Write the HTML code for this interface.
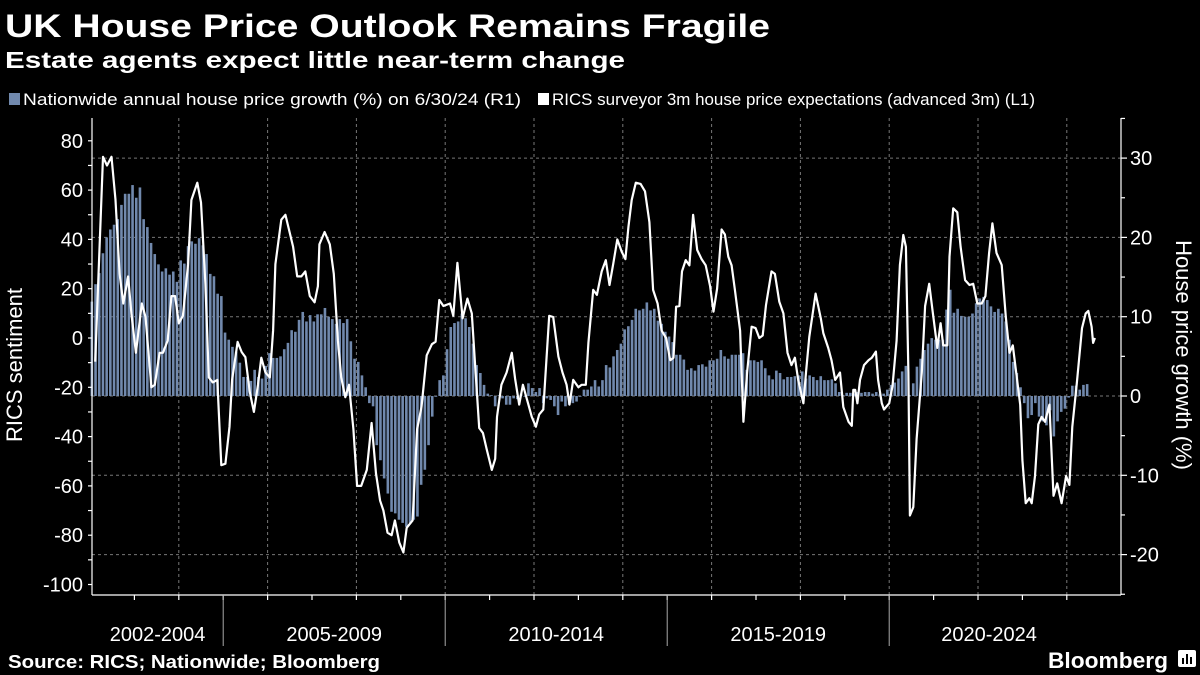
<!DOCTYPE html>
<html><head><meta charset="utf-8"><style>
html,body{margin:0;padding:0;background:#000;width:1200px;height:675px;overflow:hidden}
svg text{font-family:"Liberation Sans","DejaVu Sans",sans-serif;fill:#fff}
</style></head><body>
<svg id="chart" width="1200" height="675" viewBox="0 0 1200 675" xmlns="http://www.w3.org/2000/svg">
<rect width="1200" height="675" fill="#000"/>
<text x="5" y="37" font-size="32" font-weight="bold" textLength="765" lengthAdjust="spacingAndGlyphs">UK House Price Outlook Remains Fragile</text>
<text x="5" y="68" font-size="23" font-weight="bold" textLength="620" lengthAdjust="spacingAndGlyphs">Estate agents expect little near-term change</text>
<g>
<rect x="9" y="93" width="11" height="12" fill="#7189ad"/>
<text x="23" y="105" font-size="17" textLength="498" lengthAdjust="spacingAndGlyphs">Nationwide annual house price growth (%) on 6/30/24 (R1)</text>
<rect x="538" y="93" width="11" height="12" fill="#fff"/>
<text x="552" y="105" font-size="17" textLength="483" lengthAdjust="spacingAndGlyphs">RICS surveyor 3m house price expectations (advanced 3m) (L1)</text>
</g>
<g id="grid"></g>
<g id="bars"></g>
<g id="line"></g>
<g id="axes"></g>
<text transform="translate(22,365) rotate(-90)" text-anchor="middle" font-size="22">RICS sentiment</text>
<text transform="translate(1176,355) rotate(90)" text-anchor="middle" font-size="22">House price growth (%)</text>
<text x="8" y="668" font-size="18" font-weight="bold" textLength="372" lengthAdjust="spacingAndGlyphs">Source: RICS; Nationwide; Bloomberg</text>
<text x="1048" y="668" font-size="22" font-weight="bold" textLength="120" lengthAdjust="spacingAndGlyphs">Bloomberg</text>
<g>
<rect x="1178" y="650" width="18" height="17" rx="2" fill="#fff"/>
<rect x="1182" y="658" width="2" height="6" fill="#000"/><rect x="1186" y="654" width="2" height="10" fill="#000"/><rect x="1190" y="657" width="2" height="7" fill="#000"/>
</g>
</svg>
<script>
// Nationwide annual house price growth (%), monthly from Jan 2002
const barValues = [11.9,14.1,15.5,18,20,21,21.6,22.3,24.1,25.5,25.5,26.6,25,26.3,22.3,21.3,19.3,17.9,16.6,15.7,16.1,15.3,15.7,14.4,17.1,16.7,18.9,19.5,19.2,19.9,19,17.9,15.4,15.1,12.9,12.6,8,7.1,6.2,5.6,4.2,2.4,2.4,1.9,3.3,2.4,2.2,3.8,5.4,4.8,4.8,5,5.9,6.7,8.3,8.1,9.6,10.6,9.4,10.2,9.4,10.3,10.3,11.1,10,9.7,9.1,9.7,
9.2,9.7,6.9,4.7,4.3,2.6,1.1,-0.9,-1.3,-6.2,-8.1,-10.4,-12.3,-14.6,-14.8,-15.6,-16,-16.5,-16,-15.6,-15.2,-11.2,-9.3,-6.2,-2.6,-0.1,2,2.6,5.9,8.7,9.2,9.4,10.4,9.8,8.7,6.6,3.9,2.9,1.4,0.3,0.1,-1.3,0.1,-0.3,-1.1,-1.1,-0.3,-0.4,0.3,-0.1,1.6,1,0.5,1,-0.9,-0.3,-0.5,-1.3,-2.4,-0.7,-1.3,-1.1,-0.9,-0.7,-0.1,0.8,0.8,1.2,2,
1.2,2,3.9,3.6,5,5.8,6.6,8.4,8.8,9.6,11,10.8,11,11.8,10.8,11,9.5,9.1,8.1,7.5,6.8,5.2,5.2,4.6,3.3,3.5,3.2,3.9,4,3.7,4.5,4.5,4.7,5.8,5,4.7,5.2,5.2,5.2,5.4,3.3,4.5,4.5,4.3,4.5,3.5,2.6,2.1,3.2,2.9,2.1,2.4,2.4,2.5,2.6,3.1,2.2,2.6,2.4,2,2.5,2,2,2.1,1.6,0.5,0.1,
0.4,0.4,0.3,0.5,0.4,0.5,0.5,0.3,0.5,0.3,0.3,0.8,1.4,1.7,2.2,3.1,3.8,0.1,1.6,3.7,4.7,5.8,6.6,7.3,7.1,7.1,7.1,10.9,13.4,10.5,11,10.1,10,10,10.4,11.7,12.3,12.5,12.1,11.3,10.6,11,10.4,9.4,7.1,4.3,2.9,1.1,-0.9,-2.8,-2.4,-0.9,-2.6,-3.2,-3.7,-1.8,-5.1,-3.2,-2,-1.6,-0.2,1.3,1.3,0.8,1.4,1.5];
// RICS 3m price expectations (advanced 3m): months since Jan 2002, and balance
const lineMonth = [1.4,3.5,4.6,5.8,6.9,8,9,10.3,11.2,12.4,14,15,16.6,17.5,18.8,19.7,21,22,23,24,25.1,26.5,27.4,29,30,31.2,32.1,33.2,34.4,35.5,36.6,37.7,38.4,39.9,41,42,43.2,44.3,45.4,46.3,47.4,48.6,49.5,50.1,51.7,52.8,54.9,56,57.1,58.2,59.4,60.7,61.6,62,63.4,64.8,65.9,67,67.9,69,70,71.2,72.2,73.3,74.8,76.1,77.3,78.4,79.3,80.4,81.5,82.4,83.6,84.7,85.6,87.2,88.4,89.6,91,92.4,93.4,94.4,95.5,97.3,98.2,99.3,100.7,102,103.2,104,105.2,106.2,107.2,108.6,109.5,110,111.2,112.6,114,114.9,116,117,118.3,119.4,120.5,121.4,122.5,124.1,125.2,126.6,127.7,128.8,129.6,130.6,132,132.9,134,134.7,136,137,138.3,139.4,140.4,141.4,142.5,143.7,144.7,145.5,146.4,147.5,148.8,150,151.2,152.2,153.4,154.5,155.7,156.8,157.7,158.4,159.3,160,161,162,163,164.1,165.3,166.4,167.6,168.5,169.5,170.7,171.6,172.5,173.4,174.3,175.7,176.6,177.6,178.8,179.9,180.9,181.8,182.7,184.2,185.1,186.3,187.4,188.5,189.6,190.5,191.4,192.8,193.5,194.4,196.1,197.5,198.2,199.5,200.4,201.4,202.7,203.6,205,205.9,206.3,206.8,207.4,208.1,209.2,210.4,211.3,212.4,213,214,214.6,216,216.9,218,218.9,219.8,220.5,221.2,221.6,222.5,223.4,224.8,225.7,226.8,227.8,229,229.9,230.6,231.7,232.3,233.3,234.4,235.3,236.5,237.7,238.7,239.8,241,242,243,243.9,245,246.4,247.5,248.5,249.4,250.4,251.4,252,252.9,253.9,254.5,255.4,256.3,257.2,258.1,259.3,260.4,261.4,262.6,263.8,264.7,265.5,266.7,268.1,269.1,269.8,270.7,271.1,271.6];
const lineValue = [-9.6,73.5,70,73.5,56,26,14,25,10,-6,14,8.6,-20,-19,-6,-6,-1,17,17,6,9,30,56,63,55,22,-16,-18,-17,-51.6,-51,-36,-17,-1.6,-5.7,-7.8,-22,-30,-19,-8,-14,-16,3,30,48,50,37,25,25,27,17,14.5,21,38,43,38,26,-1,-16,-24,-19,-37,-60,-60,-53.5,-34.5,-55,-66,-70,-79,-80,-74,-83,-87,-77,-74,-37,-28,-7,-2.5,-1.5,15.4,13,14,9,30.5,8,16,10,-9,-36.5,-38.5,-45,-53.5,-49,-32,-19,-14,-6,-16.5,-27,-19,-26,-32,-36,-31,-29,9,8.5,-7.5,-14,-19,-27,-17,-20,-19,-19,-2,19.5,17.5,27,31.6,21.5,30,40,35,32,45,56,63,62.5,59.5,47,19.5,14,3,0,-9,-8,12.7,13,27,31.6,29.5,50,35.7,32,29.5,21,10.7,20,44,42,33,29.5,19.5,3,-34,-14,4.6,4,0,1,13.4,27,26,14.7,10,-6,-11,-8,-17,-26.5,-14,0.5,18,8,2,-4,-9,-17,-14,-28,-34,-35.6,-21,-21,-26.5,-17,-11,-9,-8,-5.5,-17,-26.5,-29,-26.5,-19.5,-1,29.6,41.8,37,-14,-72,-68.6,-41,-14,13,22,10,-4,6,-3,-3,33,52.6,51,37,23.5,21.5,22,14,14,17,34.5,46.5,34.5,29.6,8.6,-6,-3,-15,-27,-49.5,-67,-65,-67,-56,-35,-32,-34,-27,-64,-59,-67,-56,-59.6,-36,-18.4,4,10,11,4.6,-2,0];
const leftTicks = [80,60,40,20,0,-20,-40,-60,-80,-100];
const rightTicks = [30,20,10,0,-10,-20];
const periodLabels = ["2002-2004","2005-2009","2010-2014","2015-2019","2020-2024"];
const periodStartYears = [2002,2005,2010,2015,2020,2025];

const NS="http://www.w3.org/2000/svg";
const X0=90, PM=3.7, PLOT_L=92, PLOT_R=1121, PLOT_T=118, PLOT_B=595;
const xMonth = m => X0 + m*PM;
const xYear = y => X0 + (y-2002)*12*PM;
const yLeft = v => 338 - v*2.465;
const yRight = v => 396 - v*7.93;
function mk(tag, attrs, parent){const e=document.createElementNS(NS,tag);for(const k in attrs)e.setAttribute(k,attrs[k]);parent.appendChild(e);return e;}

const grid=document.getElementById('grid');
rightTicks.forEach(t=>{
  const l=mk('line',{x1:PLOT_L,x2:PLOT_R,y1:yRight(t),y2:yRight(t),stroke:'#777','stroke-width':1,'stroke-dasharray':'3,3'},grid);
  
  
});
for(let y=2004;y<=2024;y+=2){
  const l=mk('line',{x1:xYear(y),x2:xYear(y),y1:PLOT_T,y2:PLOT_B,stroke:'#777','stroke-width':1,'stroke-dasharray':'3,3'},grid);
  
  
}

const bars=document.getElementById('bars');
const y0=yRight(0);
barValues.forEach((v,i)=>{
  const cx=xMonth(i+0.5), yv=yRight(v);
  const r=mk('rect',{x:cx-1.3,y:Math.min(yv,y0),width:2.6,height:Math.max(0.5,Math.abs(yv-y0)),fill:'#7189ad'},bars);
  
  
});

const lineG=document.getElementById('line');
const pts=lineMonth.map((m,i)=>xMonth(m).toFixed(1)+','+yLeft(lineValue[i]).toFixed(1)).join(' ');
const pl=mk('polyline',{points:pts,fill:'none',stroke:'#fff','stroke-width':2.2,'stroke-linejoin':'round'},lineG);



const axes=document.getElementById('axes');
const ax=(a)=>mk('line',Object.assign({stroke:'#fff','stroke-width':1.2},a),axes);
const la=ax({x1:PLOT_L,x2:PLOT_L,y1:PLOT_T,y2:PLOT_B});


const ra=ax({x1:PLOT_R,x2:PLOT_R,y1:PLOT_T,y2:PLOT_B});


const ba=ax({x1:PLOT_L,x2:PLOT_R,y1:PLOT_B,y2:PLOT_B});


for(let v=-100;v<=80;v+=10){ax({x1:PLOT_L-4,x2:PLOT_L,y1:yLeft(v),y2:yLeft(v)});}
leftTicks.forEach(t=>{
  const tx=mk('text',{x:83,y:yLeft(t)+7,'text-anchor':'end','font-size':20},axes);
  tx.textContent=t;
  
  
});
for(let v=-25;v<=35;v+=5){const yy=yRight(v);if(yy>PLOT_T&&yy<PLOT_B)ax({x1:PLOT_R,x2:PLOT_R+(v%10===0?6:4),y1:yy,y2:yy});}
rightTicks.forEach(t=>{
  const tx=mk('text',{x:1130,y:yRight(t)+7,'font-size':20},axes);
  tx.textContent=t;
  
  
});
for(let y=2003;y<=2024;y++){ax({x1:xYear(y),x2:xYear(y),y1:PLOT_B,y2:PLOT_B+5});}
periodStartYears.slice(1,5).forEach(y=>{
  const s=mk('line',{x1:xYear(y),x2:xYear(y),y1:PLOT_B,y2:646,stroke:'#aaa','stroke-width':1},axes);
  
  
});
periodLabels.forEach((lab,i)=>{
  const a=Math.max(xYear(periodStartYears[i]),PLOT_L), b=Math.min(xYear(periodStartYears[i+1]),xYear(2024.5));
  const tx=mk('text',{x:(a+b)/2,y:641,'text-anchor':'middle','font-size':20},axes);
  tx.textContent=lab;
  
  
});
</script>
</body></html>
